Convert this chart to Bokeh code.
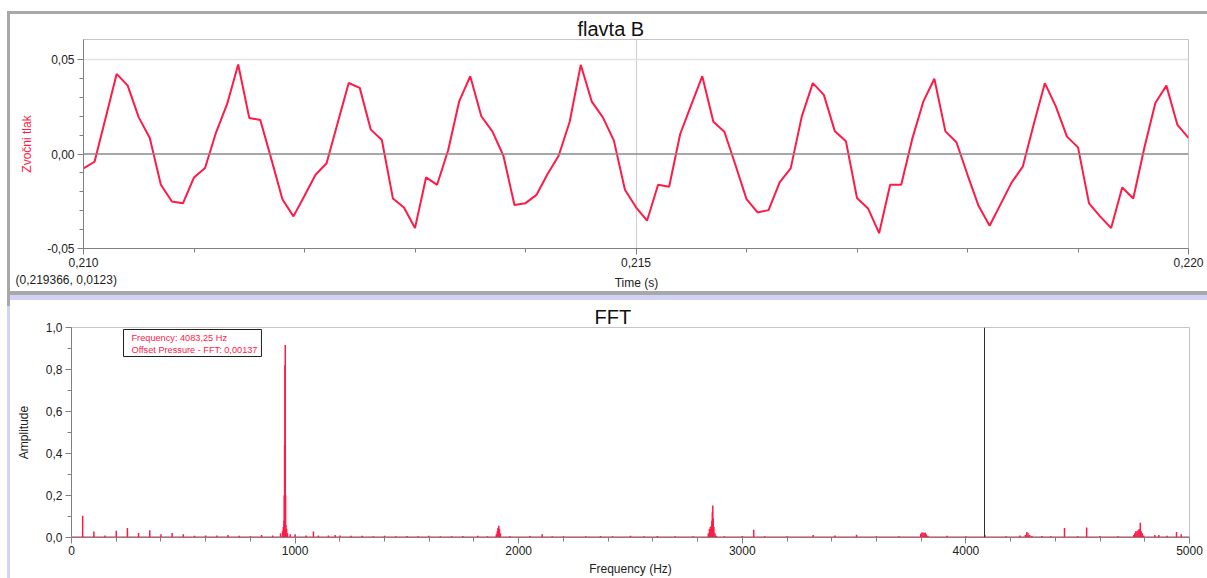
from bokeh.plotting import figure
from bokeh.layouts import column, row
from bokeh.models import FixedTicker, CustomJSTickFormatter, Span, Label, Div
from bokeh.embed import file_html
from bokeh.resources import INLINE

# ---------------- data ----------------
wave_title = "flavta B"
t_start = 0.210
t_step = 0.0001
pressure = [
    -0.0076, -0.0041, 0.0191, 0.0424, 0.0362, 0.0194, 0.0085, -0.0163, -0.0251, -0.0261,
    -0.0124, -0.0074, 0.0115, 0.0265, 0.0474, 0.0191, 0.0180, -0.0027, -0.0239, -0.0330,
    -0.0221, -0.0110, -0.0049, 0.0164, 0.0376, 0.0350, 0.0129, 0.0074, -0.0235, -0.0283,
    -0.0392, -0.0124, -0.0163, 0.0020, 0.0279, 0.0412, 0.0200, 0.0120, -0.0009, -0.0270,
    -0.0260, -0.0216, -0.0106, -0.0009, 0.0171, 0.0472, 0.0277, 0.0194, 0.0071, -0.0189,
    -0.0282, -0.0353, -0.0163, -0.0173, 0.0106, 0.0260, 0.0412, 0.0171, 0.0118, -0.0058,
    -0.0239, -0.0309, -0.0297, -0.0150, -0.0076, 0.0198, 0.0375, 0.0313, 0.0120, 0.0067,
    -0.0233, -0.0288, -0.0419, -0.0163, -0.0163, 0.0080, 0.0277, 0.0398, 0.0120, 0.0062,
    -0.0110, -0.0274, -0.0380, -0.0265, -0.0150, -0.0067, 0.0159, 0.0375, 0.0251, 0.0092,
    0.0035, -0.0261, -0.0330, -0.0392, -0.0177, -0.0235, 0.0032, 0.0270, 0.0362, 0.0154,
    0.0085,
]
time = [t_start + i * t_step for i in range(len(pressure))]
top_cursor_text = "(0,219366, 0,0123)"
top_xlabel = "Time (s)"
top_ylabel = "Zvočni tlak"
top_xticks = [0.210, 0.215, 0.220]
top_xminor = [0.211, 0.212, 0.213, 0.214, 0.216, 0.217, 0.218, 0.219]
top_yticks = [-0.05, 0.0, 0.05]
top_yminor = [-0.04, -0.03, -0.02, -0.01, 0.01, 0.02, 0.03, 0.04]

fft_title = "FFT"
fft_freq = [
    50, 100, 150, 200, 250, 300, 350, 400, 450, 500, 550, 600, 650, 700, 750, 800, 850, 900,
    935, 944, 947, 950, 951.5, 953, 954.5, 956, 957.5, 959, 962, 966,
    978, 1000, 1049, 1082, 1104, 1149, 1179, 1201, 1250, 1300, 1350, 1400, 1450, 1500,
    1550, 1598, 1650, 1700, 1750, 1817, 1860,
    1900, 1904, 1907, 1911, 1914, 1918,
    1960, 2050, 2105, 2150, 2200, 2300, 2366, 2420, 2500, 2560, 2620, 2700, 2780,
    2848, 2853, 2857, 2861, 2864, 2866, 2868, 2870, 2873, 2878, 2884,
    2920, 3000, 3051, 3100, 3200, 3317, 3414, 3511, 3600, 3700,
    3798, 3803, 3808, 3813, 3818, 3823, 3830, 3916, 4000, 4085,
    4180, 4241, 4266, 4272, 4278, 4285, 4295, 4340, 4380, 4441, 4500, 4540, 4600, 4680,
    4750, 4755, 4760, 4765, 4770, 4775, 4780, 4784, 4789, 4795,
    4845, 4863, 4900, 4942, 4963,
]
fft_amp = [
    0.104, 0.028, 0.010, 0.032, 0.045, 0.021, 0.035, 0.016, 0.022, 0.016, 0.008, 0.010, 0.010, 0.012, 0.008, 0.006, 0.012, 0.010,
    0.020, 0.030, 0.050, 0.080, 0.200, 0.440, 0.820, 0.917, 0.200, 0.060, 0.040, 0.020,
    0.015, 0.015, 0.010, 0.029, 0.010, 0.010, 0.012, 0.010, 0.008, 0.008, 0.006, 0.008, 0.006, 0.007,
    0.006, 0.008, 0.006, 0.006, 0.007, 0.008, 0.006,
    0.015, 0.030, 0.045, 0.056, 0.040, 0.020,
    0.006, 0.007, 0.016, 0.006, 0.006, 0.006, 0.007, 0.006, 0.008, 0.006, 0.007, 0.006, 0.006,
    0.020, 0.040, 0.050, 0.055, 0.080, 0.120, 0.152, 0.090, 0.050, 0.020, 0.008,
    0.006, 0.007, 0.037, 0.006, 0.006, 0.012, 0.010, 0.013, 0.006, 0.006,
    0.018, 0.024, 0.024, 0.022, 0.024, 0.015, 0.008, 0.008, 0.006, 0.012,
    0.006, 0.010, 0.012, 0.026, 0.020, 0.012, 0.008, 0.007, 0.006, 0.045, 0.006, 0.048, 0.007, 0.006,
    0.012, 0.020, 0.030, 0.030, 0.035, 0.040, 0.070, 0.030, 0.020, 0.010,
    0.012, 0.012, 0.008, 0.026, 0.015,
]
fft_noise_floor = 0.005
fft_range = [0, 5000]
fft_xticks = [0, 1000, 2000, 3000, 4000, 5000]
fft_xminor = [200, 400, 600, 800, 1200, 1400, 1600, 1800, 2200, 2400, 2600, 2800,
              3200, 3400, 3600, 3800, 4200, 4400, 4600, 4800]
fft_yticks = [0.0, 0.2, 0.4, 0.6, 0.8, 1.0]
fft_yminor = [0.1, 0.3, 0.5, 0.7, 0.9]
cursor_freq = 4083.25
cursor_amp = 0.00137

# ---------------- style ----------------
RED = "#ff1a47"
FONT = "Liberation Sans"
AXIS = "#808080"
FRAME = "#c4c4c4"
TXT = "#222222"


def style_axes(p):
    for ax in (p.xaxis[0], p.yaxis[0]):
        ax.axis_line_color = AXIS
        ax.major_tick_line_color = AXIS
        ax.minor_tick_line_color = AXIS
        ax.major_tick_in = 0
        ax.minor_tick_in = 0
        ax.major_tick_out = 6
        ax.minor_tick_out = 4
        ax.major_label_text_font = FONT
        ax.major_label_text_font_size = "12px"
        ax.major_label_text_color = TXT
        ax.axis_label_text_font = FONT
        ax.axis_label_text_font_size = "12px"
        ax.axis_label_text_font_style = "normal"
        ax.axis_label_text_color = TXT
    p.outline_line_color = FRAME
    p.outline_line_alpha = 1.0
    p.title.text_font = FONT
    p.title.text_font_size = "20px"
    p.title.text_font_style = "normal"
    p.title.text_color = "#111111"
    p.title.align = "left"
    p.title.standoff = 0


# ---------------- top chart ----------------
p1 = figure(width=1197, height=257, x_range=(0.210, 0.220), y_range=(-0.05, 0.0606),
            output_backend="svg", toolbar_location=None, title=wave_title,
            min_border_left=73, min_border_right=19, min_border_top=25, min_border_bottom=23)
style_axes(p1)
p1.title.offset = 494
p1.xaxis.ticker = FixedTicker(ticks=top_xticks, minor_ticks=top_xminor)
p1.yaxis.ticker = FixedTicker(ticks=top_yticks, minor_ticks=top_yminor)
p1.xaxis.formatter = CustomJSTickFormatter(code="return tick.toFixed(3).replace('.', ',');")
p1.yaxis.formatter = CustomJSTickFormatter(code="return tick.toFixed(2).replace('.', ',');")
p1.yaxis.axis_label = top_ylabel
p1.yaxis.axis_label_text_color = RED
p1.xaxis.major_label_standoff = 3
p1.yaxis.major_label_standoff = 3
p1.yaxis.axis_label_standoff = 10
p1.xgrid.ticker = FixedTicker(ticks=[0.215])
p1.ygrid.ticker = FixedTicker(ticks=[0.05])
p1.xgrid.grid_line_color = "#cfcfcf"
p1.ygrid.grid_line_color = "#e2e2e2"
p1.ygrid.grid_line_width = 1.5
p1.add_layout(Span(location=0, dimension="width", line_color="#8a8a8a", line_width=1.5))
p1.line(time, pressure, line_color=RED, line_width=2)

# strip under the top chart: cursor read-out and the x-axis title
strip_fig = figure(width=1197, height=20, x_axis_type=None, y_axis_type=None,
                   output_backend="svg", toolbar_location=None, min_border=0,
                   min_border_left=0, min_border_right=0, min_border_top=0, min_border_bottom=0)
strip_fig.outline_line_color = None
strip_fig.grid.visible = False
strip_fig.add_layout(Label(x=5, y=12, x_units="screen", y_units="screen", text=top_cursor_text,
                           text_font=FONT, text_font_size="12px", text_color=TXT,
                           text_align="left", text_baseline="middle"))
strip_fig.add_layout(Label(x=626, y=9, x_units="screen", y_units="screen", text=top_xlabel,
                           text_font=FONT, text_font_size="12px", text_color=TXT,
                           text_align="center", text_baseline="middle"))

# ---------------- FFT chart ----------------
p2 = figure(width=1197, height=278, x_range=(0, 5000), y_range=(0, 1.0),
            output_backend="svg", toolbar_location=None, title=fft_title,
            min_border_left=61, min_border_right=18, min_border_top=27, min_border_bottom=41)
style_axes(p2)
p2.title.offset = 523
p2.xaxis.ticker = FixedTicker(ticks=fft_xticks, minor_ticks=fft_xminor)
p2.yaxis.ticker = FixedTicker(ticks=fft_yticks, minor_ticks=fft_yminor)
p2.xaxis.formatter = CustomJSTickFormatter(code="return tick.toFixed(0);")
p2.yaxis.formatter = CustomJSTickFormatter(code="return tick.toFixed(1).replace('.', ',');")
p2.xaxis.axis_label = "Frequency (Hz)"
p2.yaxis.axis_label = "Amplitude"
p2.xaxis.major_label_standoff = 2
p2.xaxis.axis_label_standoff = 4
p2.yaxis.major_label_standoff = 3
p2.yaxis.axis_label_standoff = 12
p2.xgrid.visible = False
p2.ygrid.visible = False
p2.varea(x=fft_range, y1=[0, 0], y2=[fft_noise_floor, fft_noise_floor], fill_color=RED)
p2.segment(x0=fft_freq, y0=[0] * len(fft_freq), x1=fft_freq, y1=fft_amp,
           line_color=RED, line_width=1.5)
p2.add_layout(Span(location=cursor_freq, dimension="height", line_color="#303030", line_width=1))


def comma(v, nd):
    return f"{v:.{nd}f}".replace(".", ",")


tip = f"Frequency: {comma(cursor_freq, 2)} Hz\nOffset Pressure - FFT: {comma(cursor_amp, 5)}"
p2.add_layout(Label(x=0, y=1.0, x_offset=52, y_offset=-2, text=tip,
                    text_font=FONT, text_font_size="9.2px", text_color=RED,
                    text_align="left", text_baseline="top",
                    border_line_color="#202020", border_line_width=1,
                    background_fill_color="white", padding=(8, 4, 3, 2)))

# ---------------- window chrome ----------------
GREY = "#a8a8a8"
LAV = "#d2d2f6"


def strip(w, h, color=None):
    st = {"background-color": color} if color else {}
    return Div(text="", width=w, height=h, margin=0, styles=st)


left_bar = column(strip(3, 295, GREY), strip(3, 272, LAV), spacing=0)
right = column(strip(1197, 3, GREY), row(p1, spacing=0), row(strip_fig, spacing=0),
               strip(1197, 4, GREY), strip(1197, 5, LAV), row(p2, spacing=0), spacing=0)
layout = column(strip(1207, 11), row(strip(7, 567), left_bar, right, spacing=0), spacing=0)

open("out.html", "w").write(file_html(layout, INLINE))
